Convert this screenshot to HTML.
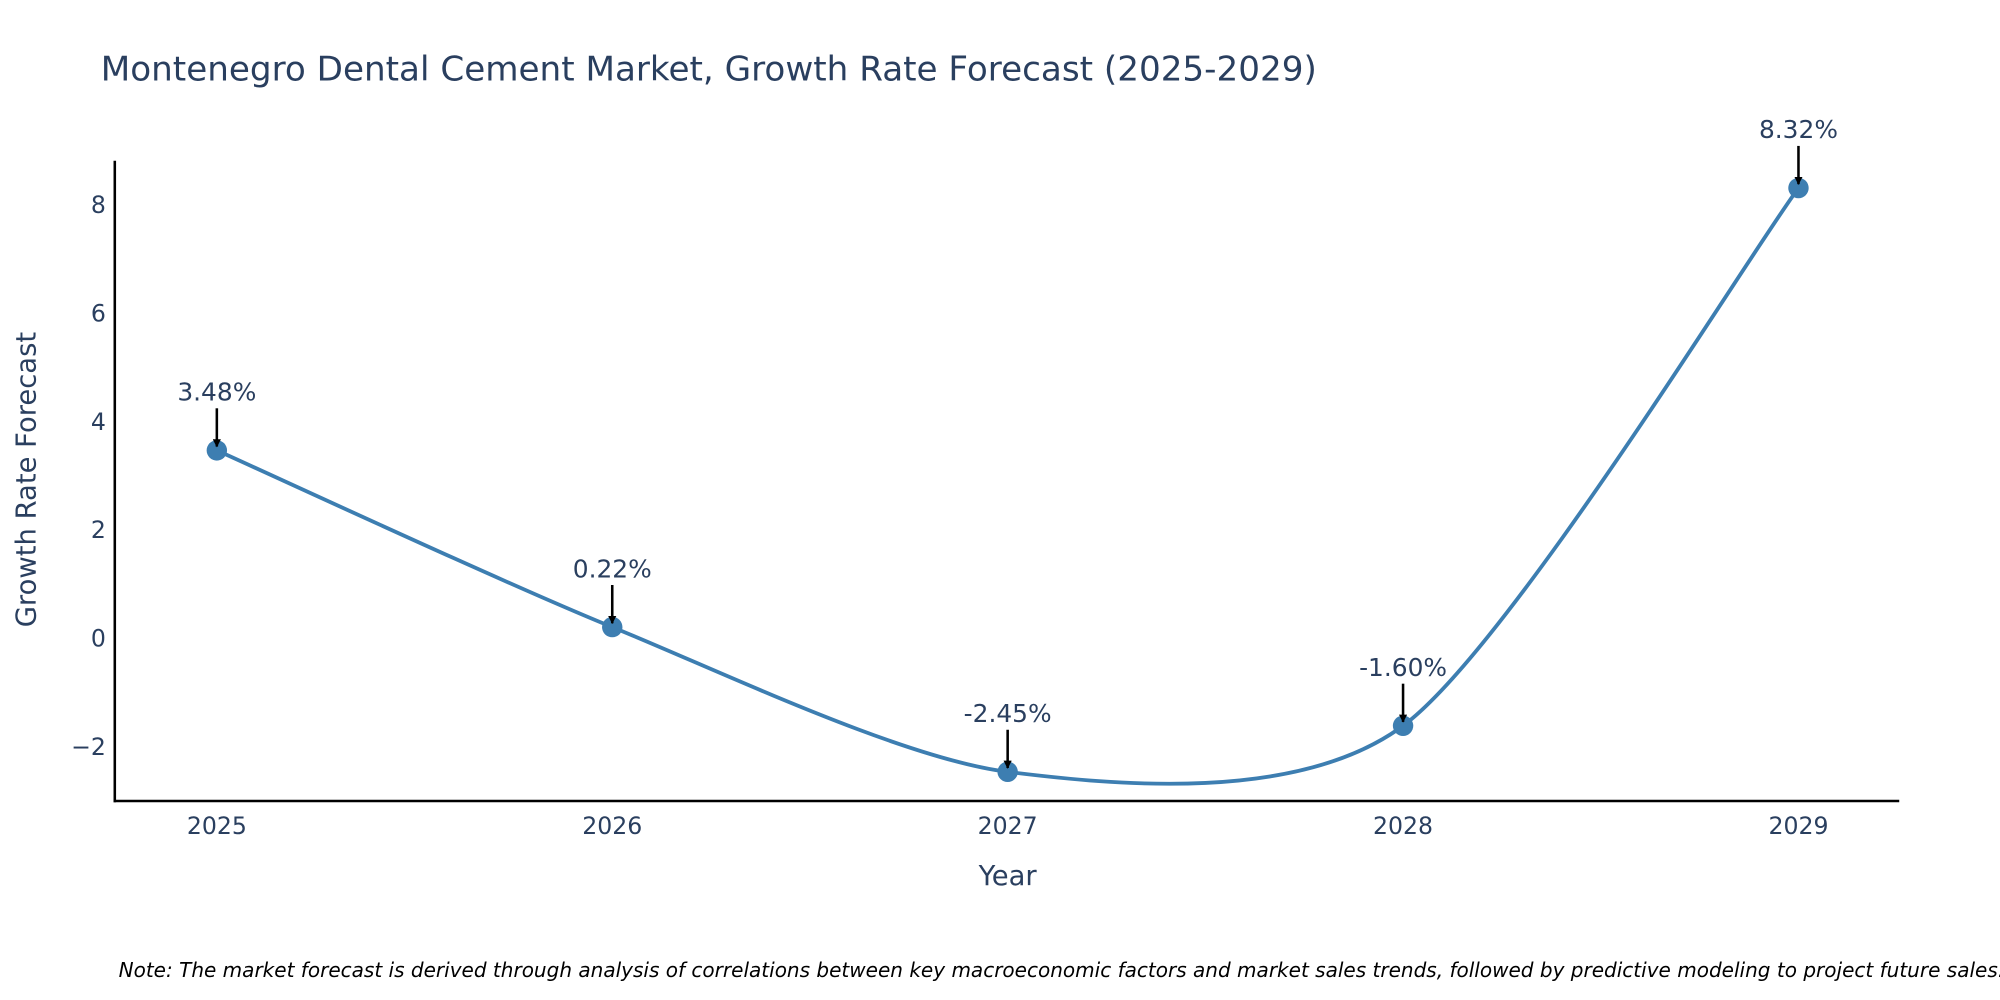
<!DOCTYPE html>
<html><head><meta charset="utf-8"><style>
html,body{margin:0;padding:0;background:#fff;width:2000px;height:1000px;overflow:hidden}
svg{display:block}
</style></head><body>
<svg id="chart" width="2000" height="1000" viewBox="0 0 1568 784" preserveAspectRatio="none" xmlns="http://www.w3.org/2000/svg" font-family="'DejaVu Sans', 'Liberation Sans', sans-serif">
<defs><marker id="ah" viewBox="0 0 10 10" refX="9" refY="5" markerWidth="3.2" markerHeight="3.2" orient="auto"><path d="M0,0L10,5L0,10z" fill="#000"/></marker></defs>
<text x="79" y="63" font-size="26.8" fill="#2a3f5f">Montenegro Dental Cement Market, Growth Rate Forecast (2025-2029)</text>
<g id="yticks"></g><g id="xticks"></g>
<line x1="90" y1="126" x2="90" y2="629" stroke="#000" stroke-width="2"/>
<line x1="89" y1="628" x2="1489" y2="628" stroke="#000" stroke-width="2"/>
<text transform="translate(28,376) rotate(-90)" text-anchor="middle" font-size="21.5" fill="#2a3f5f">Growth Rate Forecast</text>
<text x="790" y="694" text-anchor="middle" font-size="21.5" fill="#2a3f5f">Year</text>
<path id="line" fill="none" stroke="#3d7eb1" stroke-width="3"/>
<g id="points"></g>
<text x="93" y="766" font-size="15.7" font-style="italic" fill="#000">Note: The market forecast is derived through analysis of correlations between key macroeconomic factors and market sales trends, followed by predictive modeling to project future sales.</text>
</svg>
<script>
const years = [2025, 2026, 2027, 2028, 2029];
const values = [3.48, 0.22, -2.45, -1.60, 8.32];
const labels = ["3.48%", "0.22%", "-2.45%", "-1.60%", "8.32%"];
const yTicks = [-2, 0, 2, 4, 6, 8];
const yTickLabels = ["\u22122", "0", "2", "4", "6", "8"];

const NS = "http://www.w3.org/2000/svg";
const xs = y => 170 + (y - 2025) * 310;
const ys = v => 501 - v * 42.5;
function mk(tag, attrs, parent, txt) {
  const e = document.createElementNS(NS, tag);
  for (const k in attrs) e.setAttribute(k, attrs[k]);
  if (txt !== undefined) e.textContent = txt;
  parent.appendChild(e);
  return e;
}
const yg = document.getElementById('yticks');
yTicks.forEach((t, i) => {
  const e = mk('text', {x: 83, y: ys(t) + 6, 'text-anchor': 'end', 'font-size': 18.5, fill: '#2a3f5f'}, yg, yTickLabels[i]);
  
  
});
const xg = document.getElementById('xticks');
years.forEach(y => {
  const e = mk('text', {x: xs(y), y: 654, 'text-anchor': 'middle', 'font-size': 18.5, fill: '#2a3f5f'}, xg, String(y));
  
  
});
const P = years.map((y, i) => [xs(y), ys(values[i])]);
let d = `M${P[0][0]},${P[0][1]}`;
const t = 0.4;
for (let i = 0; i < P.length - 1; i++) {
  const p0 = P[Math.max(0, i - 1)], p1 = P[i], p2 = P[i + 1], p3 = P[Math.min(P.length - 1, i + 2)];
  const c1 = [p1[0] + (p2[0] - p0[0]) * t / 3, p1[1] + (p2[1] - p0[1]) * t / 3];
  const c2 = [p2[0] - (p3[0] - p1[0]) * t / 3, p2[1] - (p3[1] - p1[1]) * t / 3];
  d += ` C${c1[0]},${c1[1]} ${c2[0]},${c2[1]} ${p2[0]},${p2[1]}`;
}
document.getElementById('line').setAttribute('d', d);
const pg = document.getElementById('points');
P.forEach((p, i) => {
  const c = mk('circle', {cx: p[0], cy: p[1], r: 8, fill: '#3d7eb1'}, pg);
  
  
  const a = mk('line', {x1: p[0], y1: p[1] - 33, x2: p[0], y2: p[1] - 3, stroke: '#000', 'stroke-width': 2, 'marker-end': 'url(#ah)'}, pg);
  
  
  const l = mk('text', {x: p[0], y: p[1] - 39, 'text-anchor': 'middle', 'font-size': 19.5, fill: '#2a3f5f'}, pg, labels[i]);
  
  
});
</script>
</body></html>
